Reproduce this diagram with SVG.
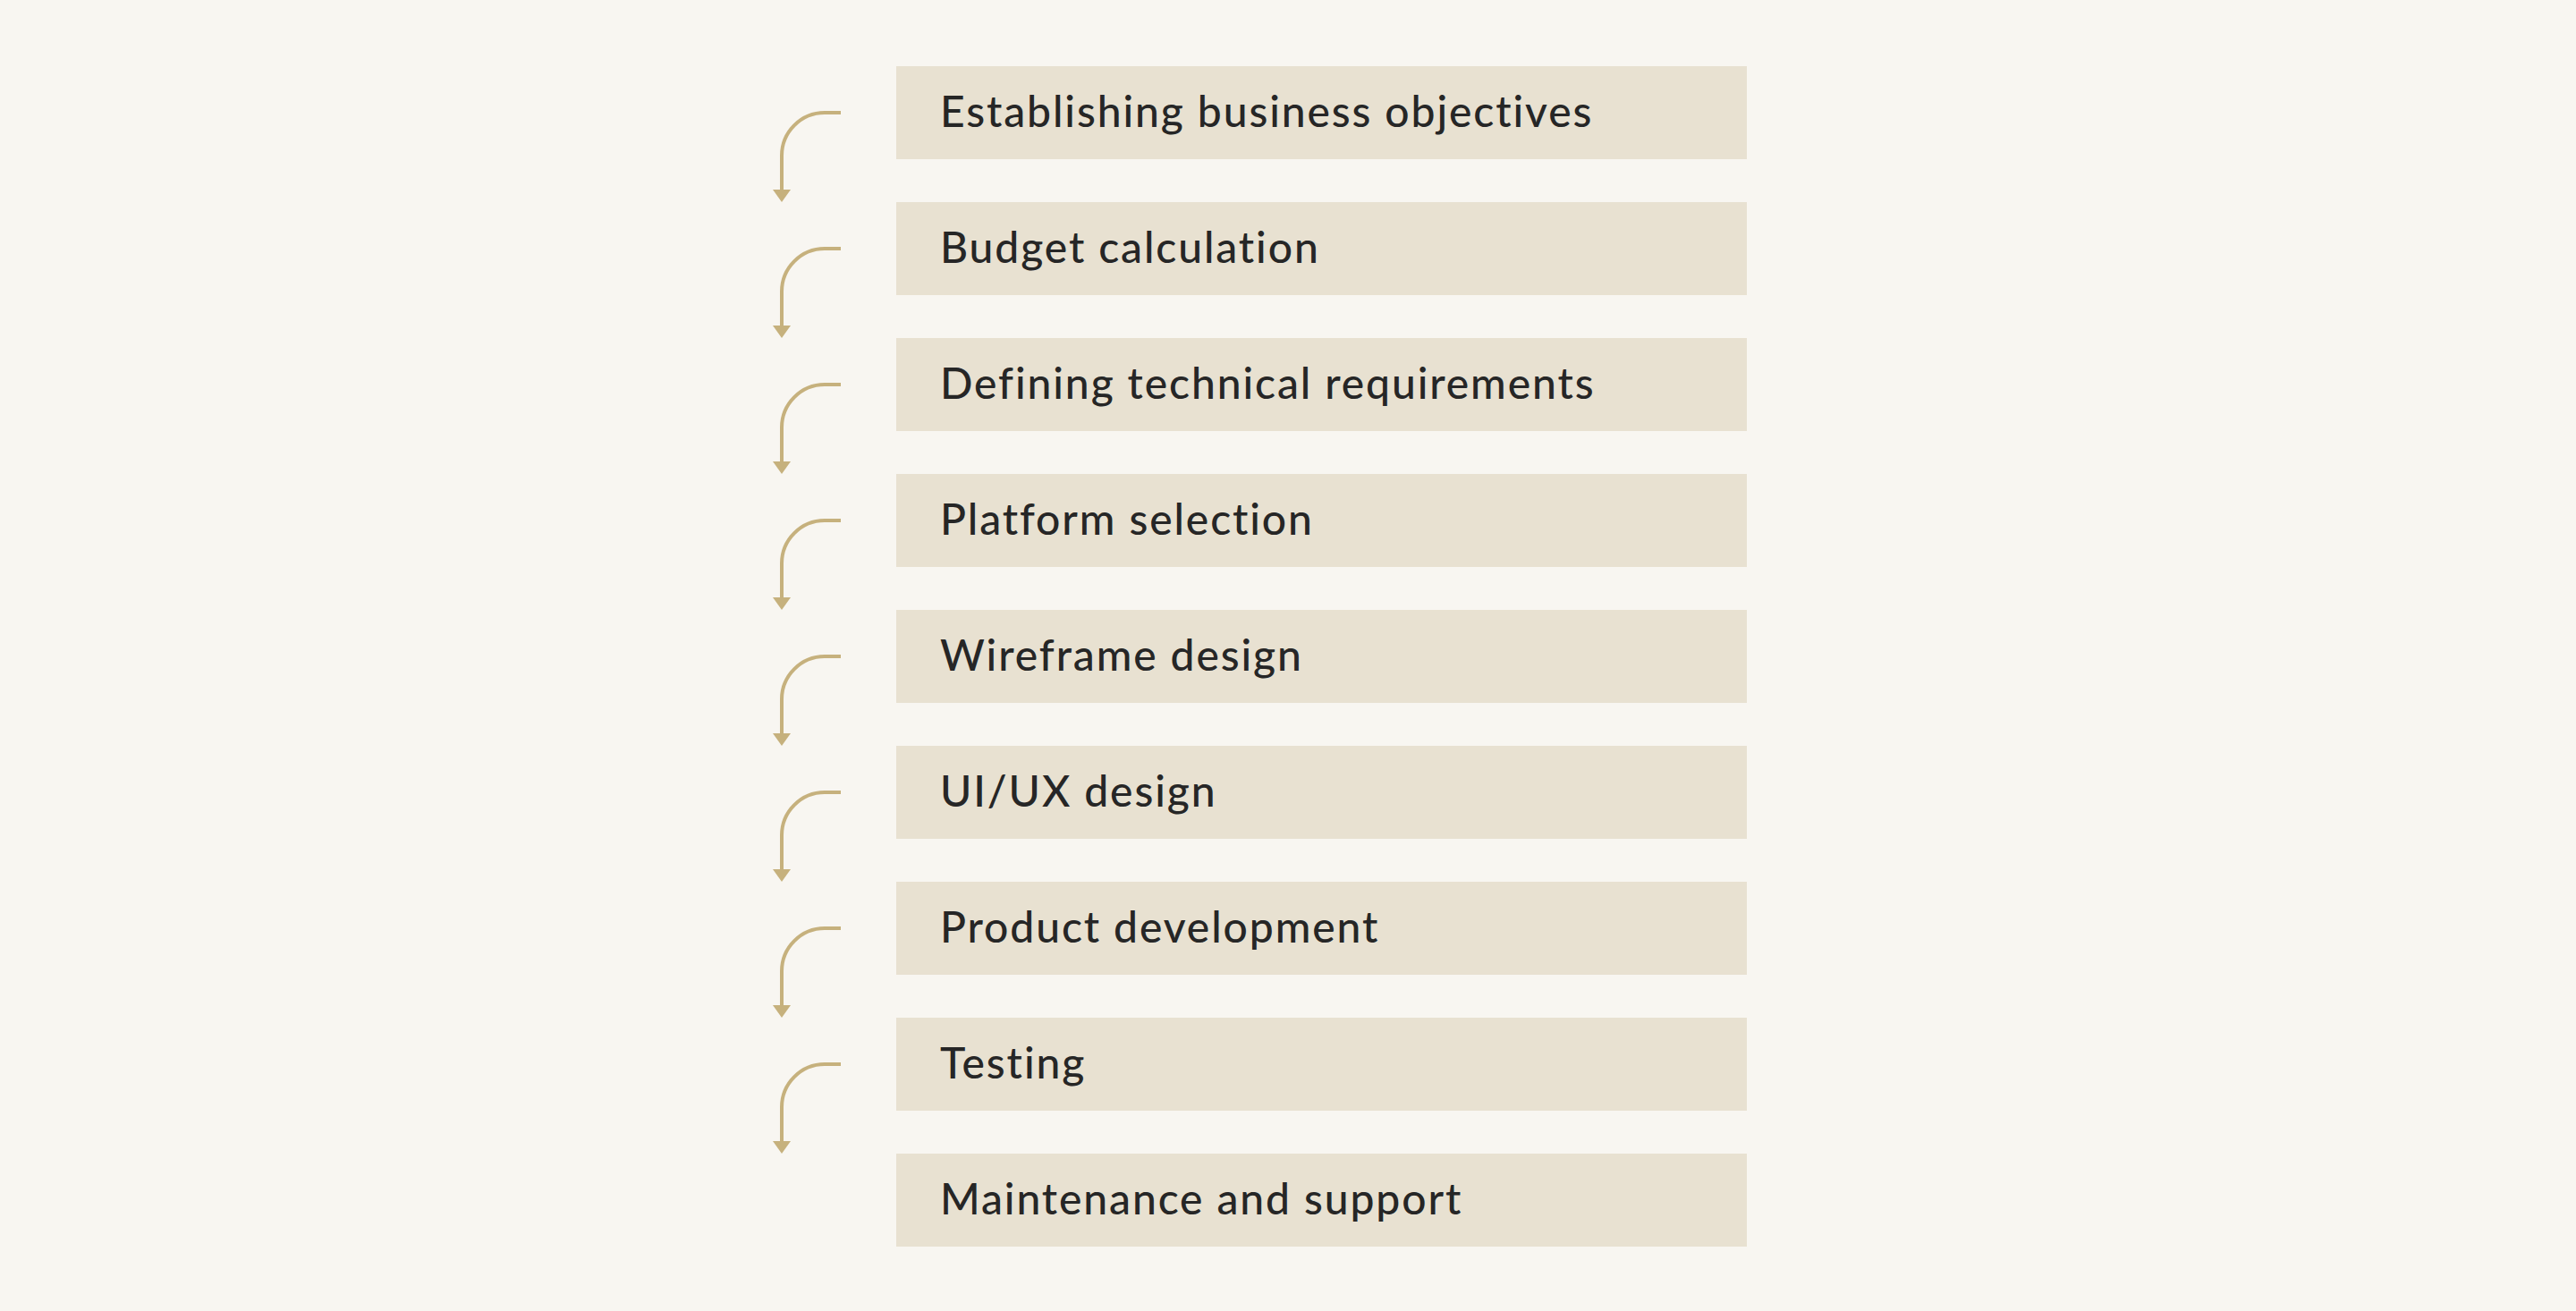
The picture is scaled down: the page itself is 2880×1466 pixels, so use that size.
<svg xmlns="http://www.w3.org/2000/svg" width="2880" height="1466" viewBox="0 0 2880 1466">
<style>
.bg{fill:#f8f6f1}
.box{fill:#e8e1d1}
.lbl{font-family:Lato,"Noto Sans","Liberation Sans",sans-serif;font-size:48px;fill:#262626;font-weight:500;letter-spacing:1.9px;font-variant-ligatures:none}
.con{fill:none;stroke:#c6b17d;stroke-width:4}
</style>
<defs>
<marker id="ah" markerUnits="userSpaceOnUse" markerWidth="14" markerHeight="20" viewBox="0 0 14 20" refX="0" refY="10" orient="auto">
<path d="M0,0 L14,10 L0,20 z" fill="#c6b17d"/>
</marker>
</defs>
<rect class="bg" x="0" y="0" width="2880" height="1466"/>
<g id="connectors">
<path class="con" marker-end="url(#ah)" d="M940,126 H922 A48,48 0 0 0 874,174 V212"/>
<path class="con" marker-end="url(#ah)" d="M940,278 H922 A48,48 0 0 0 874,326 V364"/>
<path class="con" marker-end="url(#ah)" d="M940,430 H922 A48,48 0 0 0 874,478 V516"/>
<path class="con" marker-end="url(#ah)" d="M940,582 H922 A48,48 0 0 0 874,630 V668"/>
<path class="con" marker-end="url(#ah)" d="M940,734 H922 A48,48 0 0 0 874,782 V820"/>
<path class="con" marker-end="url(#ah)" d="M940,886 H922 A48,48 0 0 0 874,934 V972"/>
<path class="con" marker-end="url(#ah)" d="M940,1038 H922 A48,48 0 0 0 874,1086 V1124"/>
<path class="con" marker-end="url(#ah)" d="M940,1190 H922 A48,48 0 0 0 874,1238 V1276"/>
</g>
<g id="n1"><rect class="box" x="1002" y="74" width="951" height="104"/><text class="lbl" x="1051" y="142">Establishing business objectives</text></g>
<g id="n2"><rect class="box" x="1002" y="226" width="951" height="104"/><text class="lbl" x="1051" y="294">Budget calculation</text></g>
<g id="n3"><rect class="box" x="1002" y="378" width="951" height="104"/><text class="lbl" x="1051" y="446">Defining technical requirements</text></g>
<g id="n4"><rect class="box" x="1002" y="530" width="951" height="104"/><text class="lbl" x="1051" y="598">Platform selection</text></g>
<g id="n5"><rect class="box" x="1002" y="682" width="951" height="104"/><text class="lbl" x="1051" y="750">Wireframe design</text></g>
<g id="n6"><rect class="box" x="1002" y="834" width="951" height="104"/><text class="lbl" x="1051" y="902">UI/UX design</text></g>
<g id="n7"><rect class="box" x="1002" y="986" width="951" height="104"/><text class="lbl" x="1051" y="1054">Product development</text></g>
<g id="n8"><rect class="box" x="1002" y="1138" width="951" height="104"/><text class="lbl" x="1051" y="1206">Testing</text></g>
<g id="n9"><rect class="box" x="1002" y="1290" width="951" height="104"/><text class="lbl" x="1051" y="1358">Maintenance and support</text></g>
</svg>
